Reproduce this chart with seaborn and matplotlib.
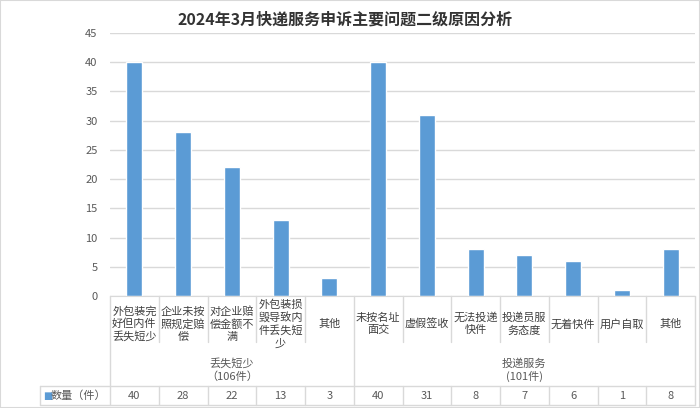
import matplotlib
matplotlib.use("Agg")
import matplotlib.pyplot as plt
import matplotlib.transforms as mtransforms
from matplotlib.lines import Line2D
from matplotlib.patches import Rectangle
import pandas as pd
import seaborn as sns

# --- data ---
title = "2024年3月快递服务申诉主要问题二级原因分析"
categories = [
    "外包装完\n好但内件\n丢失短少",
    "企业未按\n照规定赔\n偿",
    "对企业赔\n偿金额不\n满",
    "外包装损\n毁导致内\n件丢失短\n少",
    "其他",
    "未按名址\n面交",
    "虚假签收",
    "无法投递\n快件",
    "投递员服\n务态度",
    "无着快件",
    "用户自取",
    "其他",
]
counts = [40, 28, 22, 13, 3, 40, 31, 8, 7, 6, 1, 8]
group_names = ["丢失短少\n（106件）", "投递服务\n(101件)"]
group_sizes = [5, 7]
series_name = "数量（件）"
y_ticks = [0, 5, 10, 15, 20, 25, 30, 35, 40, 45]

BAR_COLOR = "#5b9bd5"
GRID = "#d9d9d9"
TEXT = "#595959"

sns.set_style("white")
plt.rcParams['font.family'] = ['Noto Sans CJK SC', 'DejaVu Sans']

W, H = 700, 408
fig = plt.figure(figsize=(W / 100, H / 100), dpi=100)


def fx(px):
    return px / W


def fy(py):
    return 1 - py / H


ax = fig.add_axes([fx(110), fy(296), fx(695) - fx(110), fy(33) - fy(296)])

df = pd.DataFrame({"pos": range(len(counts)), "count": counts})
sns.barplot(data=df, x="pos", y="count", color=BAR_COLOR, saturation=1,
            width=0.33, ax=ax)

ax.set_xlim(-0.5, len(counts) - 0.5)
ax.set_ylim(0, 45)
ax.set_yticks(y_ticks)
ax.yaxis.grid(True, color=GRID, lw=1)
ax.set_axisbelow(True)
ax.set_xticks([])
ax.set_xlabel("")
ax.set_ylabel("")
ax.tick_params(axis="y", length=0, pad=9, labelsize=8, labelcolor=TEXT)
for side in ["left", "right", "top"]:
    ax.spines[side].set_visible(False)
ax.spines["bottom"].set_color(GRID)

# --- data table under the axis ---
trans = mtransforms.blended_transform_factory(ax.transData, fig.transFigure)

for i, lab in enumerate(categories):
    ax.text(i, fy(324), lab, transform=trans, ha="center", va="center",
            fontsize=8, color="#404040", linespacing=1.25, clip_on=False)
    ax.text(i, fy(396), str(counts[i]), transform=trans, ha="center",
            va="center", fontsize=8, color=TEXT, clip_on=False)

start = 0
group_edges = [-0.5]
for name, size in zip(group_names, group_sizes):
    center = start + (size - 1) / 2
    ax.text(center, fy(370), name, transform=trans, ha="center", va="center",
            fontsize=8, color=TEXT, linespacing=1.25, clip_on=False)
    start += size
    group_edges.append(start - 0.5)

for k in range(len(counts) + 1):
    b = k - 0.5
    if b in group_edges:
        fig.add_artist(Line2D([b, b], [fy(296), fy(405)], transform=trans,
                              color=GRID, lw=1))
    else:
        fig.add_artist(Line2D([b, b], [fy(296), fy(342)], transform=trans,
                              color=GRID, lw=1))
        fig.add_artist(Line2D([b, b], [fy(386), fy(405)], transform=trans,
                              color=GRID, lw=1))

for py in [386, 405]:
    fig.add_artist(Line2D([fx(40), fx(695)], [fy(py), fy(py)],
                          transform=fig.transFigure, color=GRID, lw=1))
fig.add_artist(Line2D([fx(40), fx(40)], [fy(386), fy(405)],
                      transform=fig.transFigure, color=GRID, lw=1))

# legend key in the table
fig.text(fx(43), fy(396), "■", color=BAR_COLOR, fontsize=7,
         ha="left", va="center", family=["DejaVu Sans"])
fig.text(fx(51), fy(396), series_name, color=TEXT, fontsize=8,
         ha="left", va="center")

fig.text(fx(345), fy(20), title, ha="center", va="center", fontsize=11.5,
         fontweight="bold", color="#333333")

fig.add_artist(Rectangle((0, 0), 1, 1, transform=fig.transFigure,
                         fill=False, edgecolor=GRID, lw=1.5))

fig.savefig("out.png", dpi=100)
